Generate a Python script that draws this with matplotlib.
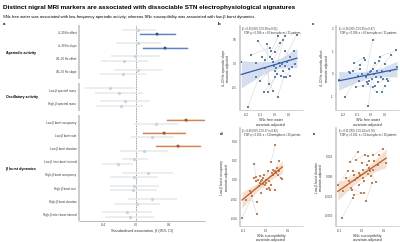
import numpy as np
import matplotlib
matplotlib.use("Agg")
import matplotlib.pyplot as plt

plt.rcParams['font.family'] = ['Liberation Sans', 'DejaVu Sans']

# ---------------- data : panel a (forest plot) ----------------
groups = ["Aperiodic activity", "Oscillatory activity", "β burst dynamics"]
outcomes = ["4–30 Hz offset", "4–30 Hz slope", "40–90 Hz offset", "40–90 Hz slope",
            "Low-β spectral mass", "High-β spectral mass",
            "Low-β burst occupancy", "Low-β burst rate", "Low-β burst duration",
            "Low-β inter-burst interval", "High-β burst occupancy", "High-β burst rate",
            "High-β burst duration", "High-β inter-burst interval"]
outcome_group = [0, 0, 0, 0, 1, 1, 2, 2, 2, 2, 2, 2, 2, 2]

# SNc susceptibility (upper estimate of each row)
sus_beta = [0.03, 0.03, -0.01, 0.02, -0.32, -0.13, 0.60, 0.34, 0.51, -0.02, 0.14, -0.02, 0.20, -0.11]
sus_lo = [-0.17, -0.24, -0.30, -0.27, -0.62, -0.43, 0.37, 0.09, 0.24, -0.17, -0.17, -0.32, -0.10, -0.41]
sus_hi = [0.24, 0.30, 0.29, 0.32, -0.01, 0.17, 0.82, 0.59, 0.78, 0.14, 0.45, 0.28, 0.50, 0.20]
# SNc free water (lower estimate of each row)
fw_beta = [0.26, 0.35, -0.14, -0.16, -0.21, -0.18, 0.24, 0.20, 0.10, -0.22, -0.02, -0.03, 0.01, -0.07]
fw_lo = [0.05, 0.09, -0.42, -0.44, -0.50, -0.48, -0.02, -0.06, -0.19, -0.41, -0.32, -0.32, -0.27, -0.37]
fw_hi = [0.47, 0.62, 0.15, 0.12, 0.09, 0.09, 0.52, 0.46, 0.39, -0.03, 0.27, 0.26, 0.29, 0.22]
sus_sig = [6, 7, 8]
fw_sig = [0, 1]

# ---------------- data : panel b (free water vs 4-30 Hz slope) ----------------
b_x = [-0.238, -0.172, -0.191, -0.122, -0.132, -0.106, -0.089, -0.078, -0.066, -0.049,
       -0.035, -0.035, -0.024, -0.019, -0.014, -0.007, 0.000, 0.005, 0.009, 0.016,
       0.021, 0.024, 0.028, 0.035, 0.040, 0.045, 0.052, 0.056, 0.059, 0.064,
       0.071, 0.075, 0.080, 0.087, 0.099, 0.106, 0.122, 0.134, 0.141, 0.158,
       -0.014, -0.042, -0.066, -0.136, -0.054, 0.075, 0.005, 0.111]
b_y = [0.04, 0.17, -0.90, 0.46, 0.01, -0.36, 0.14, -0.60, 0.07, -0.60,
       0.33, 0.13, 0.25, 0.09, 0.04, -0.05, -0.15, -0.29, -0.10, -0.21,
       -0.69, 0.56, 0.00, 0.42, -0.05, -0.26, -0.01, 0.49, -0.15, -0.29,
       0.58, -0.05, -0.29, 0.02, -0.12, -0.26, -0.07, 0.26, -0.01, 0.60,
       -0.57, -0.43, -0.10, -0.29, 0.40, 0.26, 0.23, 0.13]
b_pairs = [(0, 4), (1, 10), (2, 8), (3, 13), (5, 15), (7, 17), (9, 19), (11, 23), (12, 21),
           (14, 27), (16, 25), (18, 30), (20, 29), (22, 37), (24, 33), (26, 39), (28, 35),
           (31, 38), (32, 36), (40, 42), (41, 44), (45, 47)]

# ---------------- data : panel c (free water vs 4-30 Hz offset) ----------------
c_x = [-0.231, -0.184, -0.160, -0.148, -0.129, -0.118, -0.108, -0.096, -0.089, -0.078,
       -0.066, -0.059, -0.049, -0.042, -0.038, -0.031, -0.024, -0.019, -0.014, -0.007,
       0.000, 0.005, 0.012, 0.016, 0.016, 0.024, 0.028, 0.035, 0.040, 0.045,
       0.052, 0.059, 0.064, 0.071, 0.075, 0.082, 0.087, 0.099, 0.111, 0.122,
       0.134, 0.146, 0.181, 0.186, 0.028, -0.019, -0.078, 0.099]
c_y = [-0.25, -1.03, 0.07, 0.03, 0.15, 0.47, -0.59, -0.07, -0.29, 0.22,
       0.00, -0.51, 0.71, 0.63, -0.15, -0.37, -0.44, -1.43, -0.29, 0.07,
       0.15, -0.22, 1.51, 0.22, -0.59, 0.00, 0.47, -0.15, -0.81, 0.15,
       -0.37, 0.56, 0.76, -0.12, -0.81, 0.15, -0.22, -0.51, -0.22, -0.29,
       0.15, 0.84, 1.03, 0.29, -0.51, 0.00, 0.37, 0.44]
c_pairs = [(0, 3), (1, 7), (2, 9), (4, 13), (5, 12), (6, 16), (8, 18), (10, 20), (11, 24),
           (14, 22), (15, 28), (17, 21), (19, 26), (23, 31), (25, 33), (27, 36), (29, 41),
           (30, 38), (32, 42), (34, 37), (35, 40), (39, 43), (44, 45)]

# ---------------- data : panel d (susceptibility vs low-beta burst occupancy) ----------------
d_x = [-0.106, -0.087, -0.064, -0.050, -0.045, -0.042, -0.039, -0.035, -0.030, -0.027,
       -0.024, -0.020, -0.016, -0.013, -0.010, -0.005, -0.001, 0.002, 0.005, 0.010,
       0.014, 0.017, 0.022, 0.024, 0.029, 0.032, 0.035, 0.039, 0.042, 0.044,
       0.047, 0.050, 0.054, 0.059, 0.062, 0.069, 0.076, 0.044, -0.050, -0.039,
       -0.020, -0.060, 0.002, 0.024, -0.072]
d_y = [-0.0395, -0.0205, -0.0135, 0.0021, 0.0028, -0.0014, -0.0229, 0.0003, -0.0066, -0.0031,
       0.0038, -0.0014, -0.0003, -0.0042, 0.0021, 0.0055, -0.0055, -0.0031, -0.0090, 0.0090,
       -0.0014, -0.0083, -0.0101, 0.0184, 0.0073, 0.0107, 0.0055, 0.0090, 0.0097, -0.0101,
       0.0073, 0.0125, 0.0055, 0.0090, 0.0201, 0.0021, 0.0010, 0.0360, 0.0166, -0.0360,
       -0.0135, -0.0170, 0.0003, -0.0049, -0.0118]
d_pairs = [(0, 41), (1, 6), (2, 11), (3, 9), (4, 38), (5, 13), (7, 15), (8, 18), (10, 20),
           (12, 22), (14, 25), (16, 19), (17, 24), (21, 29), (23, 37), (26, 33), (27, 35),
           (28, 34), (30, 36), (31, 32), (39, 44), (40, 42)]

# ---------------- data : panel e (susceptibility vs low-beta burst duration) ----------------
e_x = [-0.108, -0.089, -0.086, -0.071, -0.063, -0.056, -0.053, -0.048, -0.044, -0.041,
       -0.038, -0.033, -0.029, -0.026, -0.023, -0.018, -0.014, -0.011, -0.008, -0.003,
       0.001, 0.004, 0.007, 0.012, 0.016, 0.019, 0.022, 0.027, 0.031, 0.034,
       0.037, 0.042, 0.046, 0.049, 0.052, 0.057, 0.064, 0.072, 0.076, 0.094,
       0.110, -0.033, 0.012, 0.027]
e_y = [-0.0106, -0.0530, -0.0191, -0.0021, 0.0064, -0.0064, 0.0178, -0.0148, -0.0169, -0.0275,
       0.0072, 0.0021, -0.0042, 0.0212, -0.0021, 0.0309, -0.0106, 0.0042, 0.0021, -0.0212,
       0.0169, 0.0085, -0.0021, -0.0064, 0.0275, -0.0309, 0.0148, 0.0030, 0.0106, 0.0191,
       0.0064, 0.0000, -0.0085, 0.0085, 0.0267, 0.0191, -0.0076, 0.0148, 0.0275, 0.0352,
       0.0169, -0.0233, -0.0212, 0.0254]
e_pairs = [(0, 4), (1, 9), (2, 8), (3, 11), (5, 12), (6, 15), (7, 19), (10, 17), (13, 24),
           (14, 22), (16, 23), (18, 28), (20, 29), (21, 27), (25, 32), (26, 33), (30, 36),
           (31, 37), (34, 39), (35, 40), (41, 42)]

BLUE = "#2f5ea8"
BLUE_CI = "#5b86c6"
ORANGE = "#c25a1c"
ORANGE_CI = "#d9824c"
GREY_PT = "#c9ced4"
GREY_CI = "#e6eaee"

fig = plt.figure(figsize=(4, 2.42), dpi=100)

fig.text(0.0075, 0.967, "Distinct nigral MRI markers are associated with dissociable STN electrophysiological signatures",
         fontsize=4.6, fontweight="bold", va="center")
fig.text(0.0075, 0.930, "SNc free water was associated with low-frequency aperiodic activity, whereas SNc susceptibility was associated with low-β burst dynamics.",
         fontsize=3.0, va="center")

# ---------------- panel a ----------------
ax = fig.add_axes([0.1975, 0.088, 0.315, 0.809])
ypos = np.array([i + 0.4 * g for i, g in enumerate(outcome_group)])
off = 0.17
for i in range(len(outcomes)):
    ax.plot([sus_lo[i], sus_hi[i]], [ypos[i] - off] * 2, color=GREY_CI, lw=1.1, solid_capstyle="butt", zorder=1)
    ax.plot([fw_lo[i], fw_hi[i]], [ypos[i] + off] * 2, color=GREY_CI, lw=1.1, solid_capstyle="butt", zorder=1)
    ax.plot(sus_beta[i], ypos[i] - off, "o", ms=2.2, color=GREY_PT, mec="#dfe3e7", mew=0.3, zorder=2)
    ax.plot(fw_beta[i], ypos[i] + off, "o", ms=2.2, color=GREY_PT, mec="#dfe3e7", mew=0.3, zorder=2)
for i in sus_sig:
    ax.plot([sus_lo[i], sus_hi[i]], [ypos[i] - off] * 2, color=ORANGE_CI, lw=1.0, zorder=3)
    ax.plot(sus_beta[i], ypos[i] - off, "s", ms=2.0, color=ORANGE, mec="#8a3a10", mew=0.3, zorder=4)
for i in fw_sig:
    ax.plot([fw_lo[i], fw_hi[i]], [ypos[i] + off] * 2, color=BLUE_CI, lw=1.0, zorder=3)
    ax.plot(fw_beta[i], ypos[i] + off, "s", ms=2.0, color=BLUE, mec="#1b3d75", mew=0.3, zorder=4)
ax.axvline(0, color="#555555", lw=0.45, ls=(0, (1.5, 1.2)), zorder=0)
ax.set_xlim(-0.69, 0.836)
ax.set_ylim(14.27, -0.55)
ax.set_yticks(ypos)
ax.set_yticklabels(outcomes)
ax.set_xticks([-0.4, 0.0, 0.4])
ax.set_xticklabels(["-0.4", "0.0", "0.4"])
ax.tick_params(axis="both", labelsize=2.1, length=1.0, width=0.3, pad=0.8, color="#666666", labelcolor="#333333")
for s in ["top", "right", "left"]:
    ax.spines[s].set_visible(False)
ax.spines["bottom"].set_color("#888888")
ax.spines["bottom"].set_linewidth(0.4)
ax.set_xlabel("Standardised association, β (95% CI)", fontsize=2.7, labelpad=1.2, color="#333333")
# group brackets on the left
gspan = [(-0.55, 3.55), (3.85, 5.95), (6.25, 14.27)]
for (a0, a1) in gspan:
    ax.plot([-0.69, -0.69], [a0, a1], color="#c4c4c4", lw=1.2, clip_on=False, solid_capstyle="butt")
group_y = [52.7, 97.0, 169.0]
for g, yy in zip(groups, group_y):
    fig.text(0.016, 1 - yy / 242, g, fontsize=2.6, fontweight="bold", va="center")

fig.text(0.0075, 1 - 24 / 242, "a", fontsize=3.2, fontweight="bold", va="center")


def scatter_panel(pos, xs, ys, pairs, col, band, xlim, ylim, yticks, yticklabels, xticks, xticklabels,
                  ylab, xlab, line1, line2, letter, letter_xy):
    axs = fig.add_axes(pos)
    xs = np.array(xs)
    ys = np.array(ys)
    for (p, q) in pairs:
        axs.plot([xs[p], xs[q]], [ys[p], ys[q]], color="#d2d2d2", lw=0.35, zorder=1)
    slope, icpt = np.polyfit(xs, ys, 1)
    n = len(xs)
    resid = ys - (slope * xs + icpt)
    s = np.sqrt(np.sum(resid ** 2) / (n - 2))
    xm = xs.mean()
    sxx = np.sum((xs - xm) ** 2)
    gx = np.linspace(xs.min(), xs.max(), 100)
    gy = slope * gx + icpt
    se = s * np.sqrt(1.0 / n + (gx - xm) ** 2 / sxx)
    axs.fill_between(gx, gy - 2.01 * se, gy + 2.01 * se, color=band, lw=0, zorder=0)
    axs.plot(xs, ys, "s", ms=1.5, color=col, mec="white", mew=0.15, zorder=2)
    axs.plot(gx, gy, color=col, lw=0.9, zorder=3)
    axs.set_xlim(*xlim)
    axs.set_ylim(*ylim)
    axs.set_xticks(xticks)
    axs.set_xticklabels(xticklabels)
    axs.set_yticks(yticks)
    axs.set_yticklabels(yticklabels)
    axs.tick_params(axis="both", labelsize=2.1, length=1.0, width=0.3, pad=0.8, color="#666666", labelcolor="#333333")
    for sp in ["top", "right"]:
        axs.spines[sp].set_visible(False)
    axs.spines["left"].set_color("#c4c4c4")
    axs.spines["left"].set_linewidth(1.1)
    axs.spines["bottom"].set_color("#c4c4c4")
    axs.spines["bottom"].set_linewidth(0.5)
    axs.set_ylabel(ylab, fontsize=2.4, labelpad=1.5, color="#333333", linespacing=1.1)
    axs.set_xlabel(xlab, fontsize=2.6, labelpad=1.2, color="#333333", linespacing=1.1)
    axs.text(0.04, 0.985, line1, transform=axs.transAxes, fontsize=1.9, va="top", color="#333333", clip_on=True)
    axs.text(0.07, 0.945, line2, transform=axs.transAxes, fontsize=1.9, va="top", color="#333333", clip_on=True)
    fig.text(letter_xy[0] / 400, 1 - letter_xy[1] / 242, letter, fontsize=3.2, fontweight="bold", va="center")
    return axs


scatter_panel([0.599, 0.545, 0.158, 0.348], b_x, b_y, b_pairs, BLUE, "#d5dff0",
              (-0.25, 0.20), (-0.97, 0.78), [-0.5, 0.0, 0.5], ["-0.5", "0.0", "0.5"],
              [-0.2, -0.1, 0.0, 0.1], ["-0.2", "-0.1", "0.0", "0.1"],
              "4–30 Hz aperiodic slope\ncovariate-adjusted", "SNc free water\ncovariate-adjusted",
              "β = 0.35 (95% CI 0.09 to 0.62)", "FDR q = 0.036; n = 60 hemispheres / 31 patients",
              "b", (218, 24))
scatter_panel([0.84, 0.545, 0.1575, 0.348], c_x, c_y, c_pairs, BLUE, "#d5dff0",
              (-0.25, 0.20), (-1.59, 2.11), [-1, 0, 1, 2], ["-1", "0", "1", "2"],
              [-0.2, -0.1, 0.0, 0.1], ["-0.2", "-0.1", "0.0", "0.1"],
              "4–30 Hz aperiodic offset\ncovariate-adjusted", "SNc free water\ncovariate-adjusted",
              "β = 0.26 (95% CI 0.05 to 0.47)", "FDR q = 0.036; n = 60 hemispheres / 31 patients",
              "c", (312, 24))
scatter_panel([0.599, 0.066, 0.158, 0.405], d_x, d_y, d_pairs, ORANGE, "#f3e0d3",
              (-0.117, 0.168), (-0.048, 0.054), [-0.04, -0.02, 0.0, 0.02, 0.04],
              ["-0.04", "-0.02", "0.00", "0.02", "0.04"],
              [-0.1, 0.0, 0.1], ["-0.1", "0.0", "0.1"],
              "Low-β burst occupancy\ncovariate-adjusted", "SNc susceptibility\ncovariate-adjusted",
              "β = 0.60 (95% CI 0.37 to 0.82)", "FDR q < 0.001; n = 51 hemispheres / 26 patients",
              "d", (220, 134))
scatter_panel([0.84, 0.066, 0.1575, 0.405], e_x, e_y, e_pairs, ORANGE, "#f3e0d3",
              (-0.116, 0.168), (-0.063, 0.0613), [-0.05, -0.025, 0.0, 0.025],
              ["-0.050", "-0.025", "0.000", "0.025"],
              [-0.1, 0.0, 0.1], ["-0.1", "0.0", "0.1"],
              "Low-β burst duration\ncovariate-adjusted", "SNc susceptibility\ncovariate-adjusted",
              "β = 0.51 (95% CI 0.24 to 0.78)", "FDR q = 0.002; n = 51 hemispheres / 26 patients",
              "e", (313, 134))

fig.savefig("out.png", dpi=100, facecolor="white")
